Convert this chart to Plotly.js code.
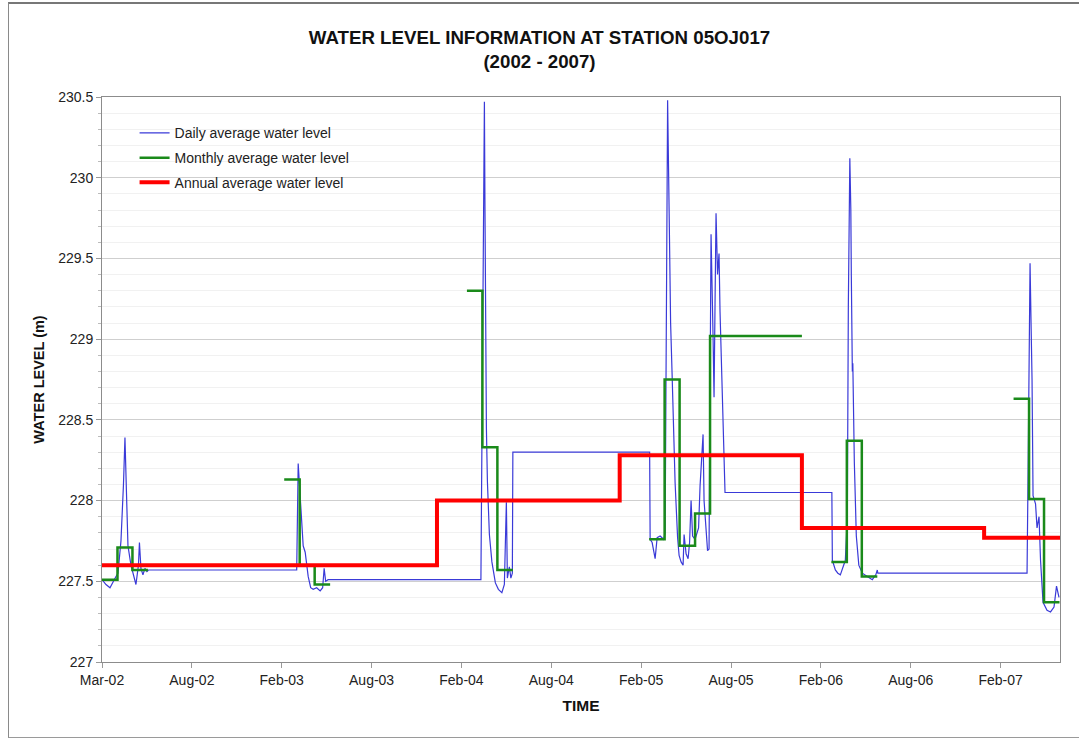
<!DOCTYPE html>
<html>
<head>
<meta charset="utf-8">
<script src="https://cdn.plot.ly/plotly-3.0.1.min.js"></script>
<style>
  html, body { margin: 0; padding: 0; background: #ffffff; }
  #wrap { position: relative; width: 1079px; height: 738px; overflow: hidden; }
  #frame { position: absolute; left: 8px; top: 2px; width: 1090px; height: 733px;
           border-left: 1px solid #8a8a8a; border-top: 2px solid #777; border-bottom: 1px solid #9a9a9a; pointer-events: none; }
  #chart { position: absolute; left: 0; top: 0; width: 1079px; height: 738px; }
</style>
</head>
<body>
<div id="wrap">
  <div id="chart"></div>
  <div id="frame"></div>
</div>
<script>
// ---------------- DATA ----------------
const dailyDates = [
  '2002-03-01','2002-03-09','2002-03-17','2002-03-23','2002-03-29','2002-04-02','2002-04-08','2002-04-13',
  '2002-04-16','2002-04-19','2002-04-22','2002-04-28','2002-05-04','2002-05-08','2002-05-13','2002-05-15',
  '2002-05-18','2002-05-22','2002-05-26','2002-05-30','2002-06-02',
  '2003-03-26','2003-03-29','2003-04-02','2003-04-08','2003-04-12','2003-04-18','2003-04-23','2003-04-28',
  '2003-05-05','2003-05-12','2003-05-17','2003-05-20','2003-05-23','2003-05-28','2003-06-05',
  '2004-03-29','2004-03-31','2004-04-03','2004-04-05','2004-04-06','2004-04-07','2004-04-09','2004-04-11',
  '2004-04-15','2004-04-20','2004-04-27','2004-05-03','2004-05-10','2004-05-15','2004-05-19','2004-05-21',
  '2004-05-25','2004-05-28','2004-05-31','2004-06-01',
  '2005-03-02','2005-03-03','2005-03-07','2005-03-10','2005-03-13','2005-03-17','2005-03-23','2005-03-30',
  '2005-04-02','2005-04-05','2005-04-07','2005-04-10','2005-04-11','2005-04-12','2005-04-13','2005-04-16',
  '2005-04-19','2005-04-22','2005-04-27','2005-04-30','2005-05-04','2005-05-08','2005-05-10','2005-05-14',
  '2005-05-18','2005-05-21','2005-05-24','2005-05-27','2005-06-01','2005-06-08','2005-06-11','2005-06-17',
  '2005-06-19','2005-06-23','2005-06-26','2005-06-29','2005-07-01','2005-07-03','2005-07-07','2005-07-09',
  '2005-07-11','2005-07-13','2005-07-16','2005-07-19','2005-07-21','2005-07-25','2005-07-29','2005-07-31',
  '2006-03-02','2006-03-03','2006-03-09','2006-03-14','2006-03-19','2006-03-25','2006-03-29','2006-04-02',
  '2006-04-04','2006-04-07','2006-04-09','2006-04-10','2006-04-12','2006-04-13','2006-04-16','2006-04-20',
  '2006-04-25','2006-05-02','2006-05-12','2006-05-22','2006-05-29','2006-06-01','2006-06-02',
  '2007-03-28','2007-03-30','2007-04-01','2007-04-03','2007-04-05','2007-04-07','2007-04-09','2007-04-14',
  '2007-04-17','2007-04-21','2007-04-24','2007-04-29','2007-05-07','2007-05-14','2007-05-21','2007-05-26',
  '2007-05-31'
];
const dailyLevel = [
  227.51,227.48,227.46,227.50,227.53,227.55,227.75,228.10,
  228.39,228.05,227.72,227.60,227.52,227.48,227.60,227.74,
  227.58,227.54,227.58,227.56,227.57,
  227.57,228.23,228.03,227.72,227.68,227.53,227.46,227.45,
  227.46,227.44,227.46,227.58,227.50,227.51,227.51,
  227.51,228.35,229.50,230.47,229.88,229.00,228.45,228.12,
  227.79,227.62,227.49,227.45,227.43,227.48,227.99,227.52,
  227.59,227.52,227.55,228.30,
  228.30,227.76,227.74,227.69,227.64,227.77,227.78,227.76,
  227.80,229.40,230.48,229.80,229.53,229.45,229.10,228.78,
  228.40,228.11,227.77,227.66,227.62,227.60,227.79,227.67,
  227.64,227.74,228.00,227.78,227.76,227.83,228.09,228.41,
  228.00,227.78,227.69,227.70,228.99,229.65,229.02,228.64,
  229.22,229.78,229.40,229.53,229.17,228.70,228.16,228.05,
  228.05,227.63,227.57,227.55,227.54,227.59,227.63,227.90,
  229.20,230.12,229.80,229.39,228.80,228.85,228.24,227.78,
  227.60,227.55,227.53,227.51,227.54,227.57,227.55,
  227.55,228.16,228.88,229.47,229.10,228.75,228.03,227.98,
  227.83,227.90,227.63,227.37,227.32,227.31,227.34,227.47,
  227.40
];

const monthlyStart = ['2002-03-01','2002-04-01','2002-05-01','2003-03-01','2003-04-01','2003-05-01',
  '2004-03-01','2004-04-01','2004-05-01','2005-03-01','2005-04-01','2005-05-01','2005-06-01','2005-07-01',
  '2006-03-01','2006-04-01','2006-05-01','2007-03-01','2007-04-01','2007-05-01'];
const monthlyEnd = ['2002-04-01','2002-05-01','2002-06-01','2003-04-01','2003-05-01','2003-06-01',
  '2004-04-01','2004-05-01','2004-06-01','2005-04-01','2005-05-01','2005-06-01','2005-07-01','2006-01-01',
  '2006-04-01','2006-05-01','2006-06-01','2007-04-01','2007-05-01','2007-06-01'];
const monthlyLevel = [227.51,227.71,227.57,228.13,227.60,227.48,
  229.30,228.33,227.57,227.76,228.75,227.72,227.92,229.02,
  227.62,228.37,227.53,228.63,228.01,227.37];

const annualStart = ['2002-01-01','2003-01-01','2004-01-01','2005-01-01','2006-01-01','2007-01-01'];
const annualEnd   = ['2003-01-01','2004-01-01','2005-01-01','2006-01-01','2007-01-01','2008-01-01'];
const annualLevel = [227.60,227.60,228.00,228.28,227.83,227.77];

const tickDates = ['2002-03-01','2002-08-28','2003-02-24','2003-08-23','2004-02-19','2004-08-17',
  '2005-02-13','2005-08-12','2006-02-08','2006-08-07','2007-02-03'];
const tickLabels = ['Mar-02','Aug-02','Feb-03','Aug-03','Feb-04','Aug-04','Feb-05','Aug-05','Feb-06','Aug-06','Feb-07'];

// build step series from segment tables
function steps(starts, ends, levels) {
  const x = [], y = [];
  for (let i = 0; i < starts.length; i++) {
    if (i > 0 && starts[i] !== ends[i - 1]) { x.push(null); y.push(null); }
    x.push(starts[i]); y.push(levels[i]);
    x.push(ends[i]); y.push(levels[i]);
  }
  return {x, y};
}
const m = steps(monthlyStart, monthlyEnd, monthlyLevel);
const a = steps(annualStart, annualEnd, annualLevel);

const FONT = 'Liberation Sans, Arial, sans-serif';

const traces = [
  { x: dailyDates, y: dailyLevel, type: 'scatter', mode: 'lines', name: 'Daily average water level',
    line: { color: '#3a3ad8', width: 1.2 }, legendgroup: 'd' },
  { x: m.x, y: m.y, type: 'scatter', mode: 'lines', name: 'Monthly average water level',
    line: { color: '#1a8a1a', width: 2.5 }, connectgaps: false, legendgroup: 'm' },
  { x: a.x, y: a.y, type: 'scatter', mode: 'lines', name: 'Annual average water level',
    line: { color: '#ff0000', width: 4 }, legendgroup: 'a' }
];

const layout = {
  width: 1079, height: 738,
  margin: { l: 102, r: 19, t: 97, b: 76 },
  paper_bgcolor: 'rgba(0,0,0,0)', plot_bgcolor: '#ffffff',
  font: { family: FONT, color: '#222' },
  title: {
    text: '<b>WATER LEVEL INFORMATION AT STATION 05OJ017</b><br><b>(2002 - 2007)</b>',
    font: { family: FONT, size: 18.7, color: '#111' },
    x: 0.5, xanchor: 'center', xref: 'container',
    y: 1 - 44 / 738, yanchor: 'top', yref: 'container'
  },
  showlegend: true,
  legend: {
    x: 0.034, y: 0.964, xanchor: 'left', yanchor: 'top',
    bgcolor: 'rgba(0,0,0,0)', borderwidth: 0,
    font: { family: FONT, size: 14, color: '#222' },
    tracegroupgap: 3.5
  },
  xaxis: {
    type: 'date', range: ['2002-03-01', '2007-06-02'],
    tickvals: tickDates, ticktext: tickLabels,
    ticks: 'outside', ticklen: 5, tickcolor: '#999',
    showline: true, linecolor: '#8c8c8c', linewidth: 1, mirror: true,
    showgrid: false, zeroline: false,
    tickfont: { family: FONT, size: 14, color: '#222' },
    title: { text: '<b>TIME</b>', font: { family: FONT, size: 15.5, color: '#111' }, standoff: 13 }
  },
  yaxis: {
    range: [227, 230.5], tick0: 227, dtick: 0.5,
    ticks: 'outside', ticklen: 5, tickcolor: '#999',
    showline: true, linecolor: '#8c8c8c', linewidth: 1, mirror: true,
    showgrid: true, gridcolor: '#cfcfcf', gridwidth: 1, zeroline: false,
    minor: { dtick: 0.1, showgrid: true, gridcolor: '#f1f1f1', ticks: 'outside', ticklen: 3, tickcolor: '#bbb' },
    tickfont: { family: FONT, size: 14, color: '#222' },
    title: { text: '<b>WATER LEVEL (m)</b>', font: { family: FONT, size: 14.5, color: '#111' }, standoff: 10 }
  }
};

Plotly.newPlot('chart', traces, layout, { displayModeBar: false, staticPlot: true });
</script>
</body>
</html>
